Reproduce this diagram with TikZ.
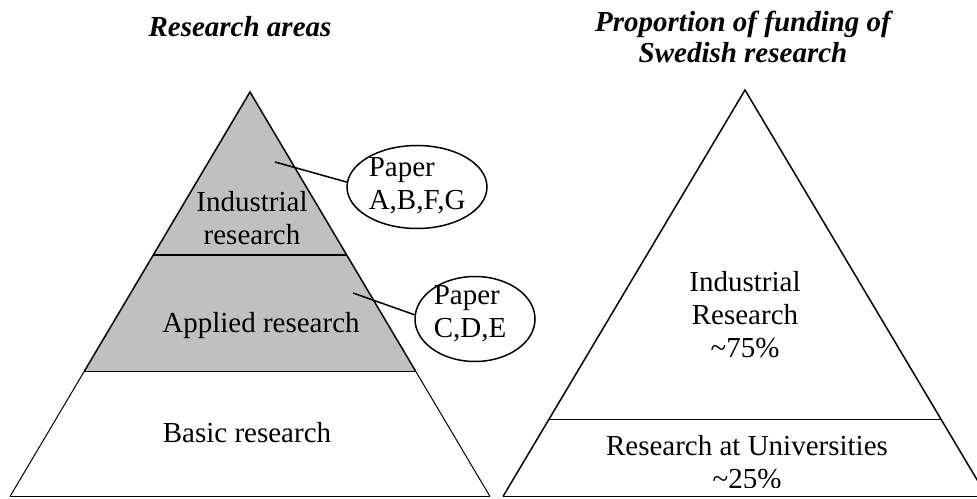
\documentclass[tikz,border=0pt]{standalone}
\usepackage{fontspec}
\setmainfont{Liberation Serif}
\usetikzlibrary{shapes.geometric,calc}
\definecolor{areagray}{RGB}{192,192,192}
\tikzset{
  lvl/.style={font=\fontsize{29}{33}\selectfont,align=center,anchor=base,inner sep=0pt},
  ttl/.style={lvl,font=\fontsize{29}{31}\selectfont\bfseries\itshape},
  paper/.style={draw,ellipse,line width=1.5pt,inner sep=0pt},
  ptxt/.style={lvl,align=left,anchor=base west}
}
\begin{document}
\begin{tikzpicture}[x=1pt,y=1pt,line width=1.5pt]
\useasboundingbox (0,0) rectangle (977,498);
% left pyramid: research areas
\coordinate (lt) at (250,406); \coordinate (ll) at (10,1.5); \coordinate (lr) at (490,1.5);
\coordinate (l1a) at ($(lt)!.4025!(ll)$); \coordinate (l1b) at ($(lt)!.4025!(lr)$);
\coordinate (l2a) at ($(lt)!.691!(ll)$); \coordinate (l2b) at ($(lt)!.691!(lr)$);
\fill[areagray] (lt) -- (l2a) -- (l2b) -- cycle;
\draw (l2a) -- (lt) -- (l2b); \draw (l1a) -- (l1b); \draw (l2a) -- (l2b);
\draw[line width=1pt] (l2a) -- (ll); \draw[line width=1pt] (l2b) -- (lr);
\draw (ll) -- (lr);
\node[ttl] (tl) at (240,461) {Research areas};
\node[lvl] (ind) at (252,253) {Industrial\\research};
\node[lvl] (app) at (261,165) {Applied research};
\node[lvl] (bas) at (247,56) {Basic research};
% papers
\node[paper,minimum width=140,minimum height=83] (pap1) at (417,311) {};
\node[ptxt] at (368,288) {Paper\\A,B,F,G};
\node[paper,minimum width=120,minimum height=85] (pap2) at (475,179) {};
\node[ptxt] at (433,160) {Paper\\C,D,E};
\coordinate (c1) at (275,336); \coordinate (c2) at (353,205);
\draw (c1) -- (pap1.176);
\draw (c2) -- (pap2.176);
% right pyramid: funding
\coordinate (rt) at (745,408); \coordinate (rl) at (503,1.5); \coordinate (rr) at (987,1.5);
\coordinate (r1a) at ($(rt)!.811!(rl)$); \coordinate (r1b) at ($(rt)!.811!(rr)$);
\draw (rl) -- (rt) -- (rr); \draw (r1a) -- (r1b); \draw (rl) -- (rr);
\node[ttl] (tr) at (743,435) {Proportion of funding of\\Swedish research};
\node[lvl] (indr) at (745,140) {Industrial\\Research\\\textasciitilde75\%};
\begin{scope}
\clip (0,11) rectangle (977,498);
\node[lvl] (uni) at (747,10) {Research at Universities\\\textasciitilde25\%};
\end{scope}
\end{tikzpicture}
\end{document}
